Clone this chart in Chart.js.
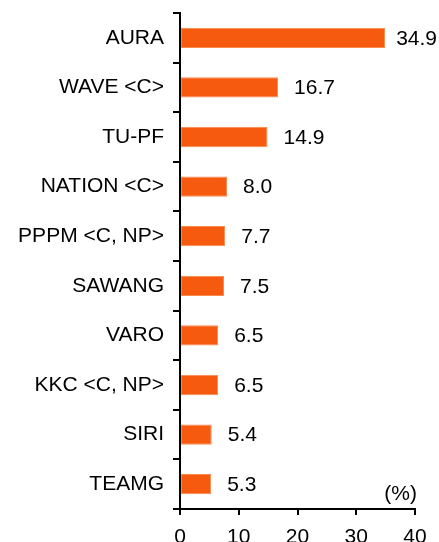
<!DOCTYPE html>
<html>
<head>
<meta charset="utf-8">
<script src="https://cdn.jsdelivr.net/npm/chart.js@4"></script>
<style>
  html, body { margin: 0; padding: 0; background: #fff; }
  #wrap { width: 439px; height: 542px; }
</style>
</head>
<body>
<div id="wrap"><canvas id="myChart"></canvas></div>
<script>
const labels = ["AURA", "WAVE <C>", "TU-PF", "NATION <C>", "PPPM <C, NP>", "SAWANG", "VARO", "KKC <C, NP>", "SIRI", "TEAMG"];
const values = [34.9, 16.7, 14.9, 8.0, 7.7, 7.5, 6.5, 6.5, 5.4, 5.3];
const xTicks = [0, 10, 20, 30, 40];
const unitLabel = "(%)";

const FONT = "'Liberation Sans', Arial, sans-serif";

// value labels next to each bar, plus the unit note
const valueLabels = {
    id: "valueLabels",
    afterDatasetsDraw(chart) {
        const c = chart.ctx;
        const meta = chart.getDatasetMeta(0);
        c.save();
        c.font = "21px " + FONT;
        c.fillStyle = "#000";
        c.textBaseline = "middle";
        c.textAlign = "left";
        meta.data.forEach((bar, i) => {
            const txt = values[i].toFixed(1);
            const w = c.measureText(txt).width;
            const x = Math.min(bar.x + 16, chart.width - 2 - w);
            c.fillText(txt, x, bar.y + 1);
        });
        c.textAlign = "right";
        c.textBaseline = "alphabetic";
        c.fillText(unitLabel, chart.chartArea.right + 2, chart.chartArea.bottom - 9);
        c.restore();
    },
};

const ctx = document.getElementById("myChart");

new Chart(ctx, {
    type: "bar",
    data: {
        labels: labels,
        datasets: [{
            data: values,
            backgroundColor: "#F55A0F",
            borderColor: "#F7894D",
            borderWidth: 1,
            borderSkipped: false,
            barPercentage: 0.41,
            categoryPercentage: 1,
        }, ],
    },
    options: {
        indexAxis: "y",
        responsive: true,
        maintainAspectRatio: false,
        animation: false,
        layout: {
            padding: { top: 13, right: 24, left: 0, bottom: 0 },
        },
        plugins: {
            legend: { display: false },
            tooltip: { enabled: false },
        },
        scales: {
            x: {
                min: 0,
                max: 40,
                afterBuildTicks: (scale) => {
                    scale.ticks = xTicks.map((v) => ({ value: v }));
                },
                afterFit: (scale) => {
                    scale.height = 33;
                    scale.paddingLeft = 0;
                    scale.paddingRight = 0;
                },
                grid: {
                    drawOnChartArea: false,
                    tickLength: 6,
                    color: "#000",
                    lineWidth: 2,
                },
                border: { color: "#000", width: 2 },
                ticks: {
                    color: "#000",
                    padding: 10,
                    maxRotation: 0,
                    font: { family: FONT, size: 21 },
                },
            },
            y: {
                afterFit: (scale) => {
                    scale.width = 180;
                    scale.paddingTop = 0;
                    scale.paddingBottom = 0;
                },
                grid: {
                    offset: true,
                    drawOnChartArea: false,
                    tickLength: 7,
                    color: "#000",
                    lineWidth: 2,
                },
                border: { color: "#000", width: 2 },
                ticks: {
                    color: "#000",
                    padding: 9,
                    font: { family: FONT, size: 21 },
                },
            },
        },
    },
    plugins: [valueLabels],
});
</script>
</body>
</html>
